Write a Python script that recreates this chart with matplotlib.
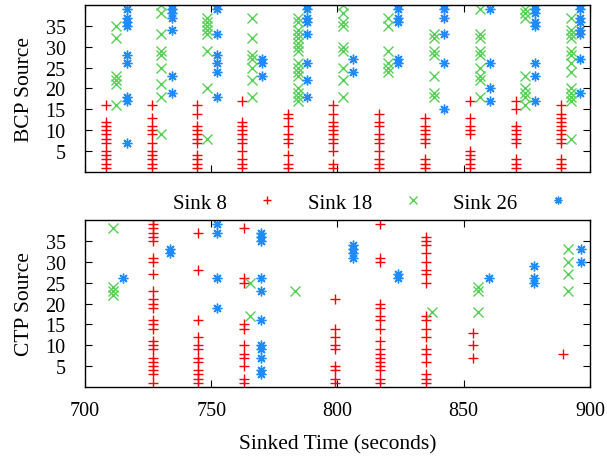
import numpy as np
import matplotlib.pyplot as plt

plt.rcParams['font.family'] = ['Liberation Serif', 'DejaVu Serif']
plt.rcParams['font.size'] = 14

# ---- BCP (top panel): column times and the source ids seen at each time ----
bcp8_times = [708.2, 726.4, 744.2, 762.3, 780.5, 798.3, 816.6, 834.6, 852.5, 870.5, 888.5]
bcp8_src = [
    [16, 12, 11, 10, 9, 8, 7, 5, 4, 3, 2, 1],
    [16, 13, 11, 10, 9, 7, 5, 4, 3, 2, 1],
    [16, 14, 11, 10, 9, 8, 7, 4, 3, 2, 1],
    [17, 12, 11, 10, 9, 8, 7, 5, 3, 2, 1],
    [14, 13, 11, 9, 8, 7, 4, 2, 1],
    [16, 14, 12, 11, 10, 9, 8, 7, 5, 2, 1],
    [14, 12, 11, 9, 8, 7, 5, 3, 2, 1],
    [13, 11, 10, 9, 8, 7, 3, 2, 1],
    [17, 13, 11, 10, 9, 5, 4, 3, 2, 1],
    [17, 15, 11, 10, 9, 8, 7, 3, 2, 1],
    [16, 14, 13, 12, 11, 10, 9, 8, 7, 3, 2, 1],
]

bcp18_times = [712.3, 730.1, 748.2, 766.0, 784.2, 802.0, 820.1, 838.2, 856.3, 874.3, 892.4]
bcp18_src = [
    [35, 32, 23, 22, 21, 16],
    [40, 38, 33, 29, 28, 25, 21, 18, 9],
    [37, 36, 35, 34, 33, 29, 20, 8],
    [37, 32, 28, 27, 25, 22, 18],
    [37, 36, 34, 33, 32, 31, 30, 29, 26, 25, 24, 23, 20, 19, 18, 17],
    [40, 38, 36, 35, 30, 29, 25, 22, 18],
    [37, 35, 29, 26, 25, 24],
    [33, 32, 29, 28, 23, 19, 18],
    [39, 33, 32, 29, 28, 25, 23, 22, 18],
    [39, 38, 37, 23, 20, 19, 18, 16],
    [37, 34, 33, 32, 29, 28, 26, 24, 20, 19, 18, 17, 8],
]

bcp26_times = [716.5, 734.3, 752.1, 770.0, 788.1, 806.3, 824.1, 842.3, 860.4, 878.2, 896.0]
bcp26_src = [
    [39, 37, 36, 35, 28, 26, 18, 17, 7],
    [40, 39, 38, 37, 34, 23, 19],
    [40, 39, 33, 28, 26, 24, 18],
    [27, 26, 23],
    [40, 39, 37, 36, 33, 26, 22, 18],
    [27, 24],
    [40, 39, 37, 36, 27, 26],
    [40, 39, 37, 33, 26, 15],
    [39, 26, 20, 17],
    [40, 39, 38, 36, 35, 26, 23, 17],
    [40, 39, 37, 36, 34, 33, 27, 19],
]

# ---- CTP (bottom panel) ----
ctp8_times = [727.1, 744.6, 763.1, 799.0, 816.8, 835.0, 853.5, 889.3]
ctp8_src = [
    [40, 39, 38, 37, 36, 35, 31, 30, 27, 23, 21, 20, 19, 16, 15, 14, 11, 10, 9, 7, 6, 5, 4, 3, 1],
    [37, 28, 16, 12, 10, 9, 7, 6, 4, 3, 2, 1],
    [38, 26, 25, 15, 14, 10, 8, 7, 5, 2, 1],
    [21, 14, 12, 10, 9, 5, 4, 2, 1],
    [39, 31, 30, 20, 19, 17, 16, 14, 11, 9, 8, 7, 6, 5, 4, 2, 1],
    [36, 35, 34, 32, 30, 28, 27, 25, 17, 16, 14, 12, 9, 8, 6, 3, 2, 1],
    [13, 10, 7],
    [8],
]

ctp18_times = [711.2, 765.3, 783.2, 837.3, 855.5, 891.1]
ctp18_src = [
    [38, 24, 23, 22],
    [25, 17],
    [23],
    [18],
    [24, 23, 18],
    [33, 30, 27, 23],
]

ctp26_times = [714.9, 733.7, 752.1, 769.7, 806.3, 823.8, 860.0, 878.0, 896.4]
ctp26_src = [
    [26],
    [33, 32],
    [39, 37, 26, 19],
    [37, 36, 35, 26, 23, 16, 10, 9, 7, 4, 3],
    [34, 33, 32, 31],
    [27, 26],
    [26],
    [29, 26, 25],
    [33, 30],
]

sinks = ['Sink 8', 'Sink 18', 'Sink 26']
colors = ['#ff0000', '#55d055', '#1e8cff']
markers = ['+', 'x', (8, 2, 0)]


def flatten(times, src):
    xs, ys = [], []
    for t, s in zip(times, src):
        xs += [t] * len(s)
        ys += s
    return np.array(xs), np.array(ys)


fig = plt.figure(figsize=(6.07, 4.6), dpi=100)
ax1 = fig.add_axes([0.140, 0.624, 0.832, 0.363])
ax2 = fig.add_axes([0.140, 0.1565, 0.832, 0.363])

top = [(bcp8_times, bcp8_src), (bcp18_times, bcp18_src), (bcp26_times, bcp26_src)]
bot = [(ctp8_times, ctp8_src), (ctp18_times, ctp18_src), (ctp26_times, ctp26_src)]

handles = []
for i in range(3):
    x, y = flatten(*top[i])
    ax1.plot(x, y, ls='none', marker=markers[i], color=colors[i], ms=7, mew=1)
    x, y = flatten(*bot[i])
    h, = ax2.plot(x, y, ls='none', marker=markers[i], color=colors[i], ms=7, mew=1)
    handles.append(h)

for ax in (ax1, ax2):
    ax.set_xlim(700, 900)
    ax.set_ylim(0, 40)
    ax.set_xticks([700, 750, 800, 850, 900])
    ax.set_yticks([5, 10, 15, 20, 25, 30, 35])
    ax.tick_params(direction='in', top=True, right=True, length=5, labelsize=14.5)
    ax.tick_params(axis='y', pad=14)
    for sp in ax.spines.values():
        sp.set_linewidth(1)

ax1.set_xticklabels([])
ax1.set_ylabel('BCP Source', labelpad=8, fontsize=15.5)
ax2.set_ylabel('CTP Source', labelpad=8, fontsize=15.5)
ax2.set_xlabel('Sinked Time (seconds)', labelpad=10, fontsize=15.5)
ax2.tick_params(axis='x', pad=10)

fig.legend(handles, sinks, loc='center', bbox_to_anchor=(0.615, 0.557), ncol=3,
           frameon=False, markerfirst=False, markerscale=0.8, fontsize=15,
           handlelength=1.5, columnspacing=1.2, handletextpad=1.2)

fig.savefig('out.png', dpi=100)
